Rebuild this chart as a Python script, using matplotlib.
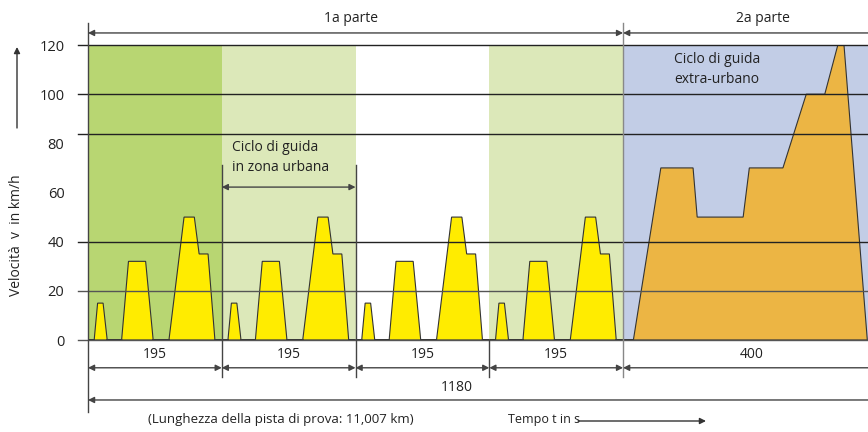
import matplotlib.pyplot as plt

plt.rcParams['font.family'] = ['Open Sans', 'DejaVu Sans']
plt.rcParams['font.size'] = 10

# urban cycle (ECE-15), times in s relative to start of each cycle
urban_t = [0, 9, 14, 22, 28, 49, 59, 84, 95, 118, 140, 155, 162, 175, 185, 195]
urban_v = [0, 0, 15, 15, 0, 0, 32, 32, 0, 0, 50, 50, 35, 35, 0, 0]

# extra-urban cycle, times in s relative to 780 s
extra_t = [0, 15, 55, 102, 108, 175, 184, 233, 267, 294, 313, 322, 356]
extra_v = [0, 0, 70, 70, 50, 50, 70, 70, 100, 100, 120, 120, 0]

seg_bounds = [0, 195, 390, 585, 780, 1180]
seg_labels = ['195', '195', '195', '195', '400']
seg_colors = ['#b8d672', '#dce8b9', '#ffffff', '#dce8b9', '#c2cde6']

y_ticks = [0, 20, 40, 60, 80, 100, 120]
grid_y = [0, 20, 40, 84, 100, 120]

fig = plt.figure(figsize=(8.68, 4.32), dpi=100)
ax = fig.add_axes([88 / 868, 92 / 432, 780 / 868, 295 / 432])
ax.set_xlim(0, 1137)
ax.set_ylim(0, 120)
for s in ax.spines.values():
    s.set_visible(False)
ax.set_xticks([])
ax.set_yticks(y_ticks)
ax.tick_params(axis='y', length=0, pad=17, labelsize=10.5, labelcolor='#222')

# background bands
for i, c in enumerate(seg_colors):
    ax.axvspan(seg_bounds[i], seg_bounds[i + 1], ymin=0, ymax=1, color=c, lw=0, zorder=0)

# urban cycles
for k in range(4):
    t0 = seg_bounds[k]
    ax.fill([t0 + t for t in urban_t], urban_v, facecolor='#ffec00',
            edgecolor='#333333', lw=0.8, zorder=2)

# extra-urban
ax.fill([780 + t for t in extra_t], extra_v, facecolor='#ecb544',
        edgecolor='#333333', lw=0.8, zorder=2)

# horizontal grid lines
for gy in grid_y:
    gc = '#555555' if gy in (0, 20) else '#222222'
    ax.plot([-14.6, 1180], [gy, gy], color=gc, lw=1, zorder=3, clip_on=False)

# vertical boundary lines
line_kw = dict(color='#444444', lw=1, zorder=3, clip_on=False)
ax.plot([0, 0], [-29.3, 129], **line_kw)
ax.plot([195, 195], [-15, 71.2], **line_kw)
ax.plot([390, 390], [-15, 71.2], **line_kw)
ax.plot([585, 585], [-15, 0], **line_kw)
ax.plot([780, 780], [-15, 129], color='#888888', lw=1, zorder=3, clip_on=False)

arrow_kw = dict(arrowstyle='<|-|>', mutation_scale=9, lw=1, color='#444444',
                shrinkA=0, shrinkB=0)


def dim_arrow(x0, x1, y):
    ax.annotate('', xy=(x1, y), xytext=(x0, y), xycoords='data',
                arrowprops=arrow_kw, annotation_clip=False, zorder=4)


# segment dimensions
for i, lab in enumerate(seg_labels):
    x0, x1 = seg_bounds[i], seg_bounds[i + 1]
    dim_arrow(x0, x1, -11.3)
    xc = (x0 + x1) / 2 if i < 4 else 967
    ax.text(xc, -6.1, lab, ha='center', va='center', color='#222', clip_on=False)

dim_arrow(0, 1180, -24.4)
ax.text(537, -19.4, '1180', ha='center', va='center', color='#222', clip_on=False)

# top arrows
dim_arrow(0, 780, 124.9)
dim_arrow(780, 1180, 124.9)
ax.text(384, 130.6, '1a parte', ha='center', va='center', color='#222', clip_on=False)
ax.text(984, 130.6, '2a parte', ha='center', va='center', color='#222', clip_on=False)

# urban cycle marker
dim_arrow(195, 390, 62.2)
ax.text(210, 78.5, 'Ciclo di guida', ha='left', va='center', color='#222', zorder=5)
ax.text(210, 70.0, 'in zona urbana', ha='left', va='center', color='#222', zorder=5)

ax.text(854, 113.9, 'Ciclo di guida', ha='left', va='center', color='#222', zorder=5)
ax.text(854, 105.8, 'extra-urbano', ha='left', va='center', color='#222', zorder=5)

# y label with arrow
fig.text(17 / 868, 197 / 432, 'Velocità  v  in km/h', rotation=90,
         ha='center', va='center', color='#222')
ax.annotate('', xy=(17, 385), xytext=(17, 304), xycoords='figure pixels',
            textcoords='figure pixels',
            arrowprops=dict(arrowstyle='-|>', mutation_scale=9, lw=1, color='#333',
                            shrinkA=0, shrinkB=0), annotation_clip=False)

# bottom texts
fig.text(148 / 868, 13 / 432, '(Lunghezza della pista di prova: 11,007 km)',
         ha='left', va='center', color='#222', fontsize=9.5)
fig.text(508 / 868, 13 / 432, 'Tempo t in s', ha='left', va='center',
         color='#222', fontsize=9)
ax.annotate('', xy=(706, 11), xytext=(578, 11), xycoords='figure pixels',
            textcoords='figure pixels',
            arrowprops=dict(arrowstyle='-|>', mutation_scale=9, lw=1, color='#333',
                            shrinkA=0, shrinkB=0), annotation_clip=False)

fig.savefig('out.png', dpi=100)
